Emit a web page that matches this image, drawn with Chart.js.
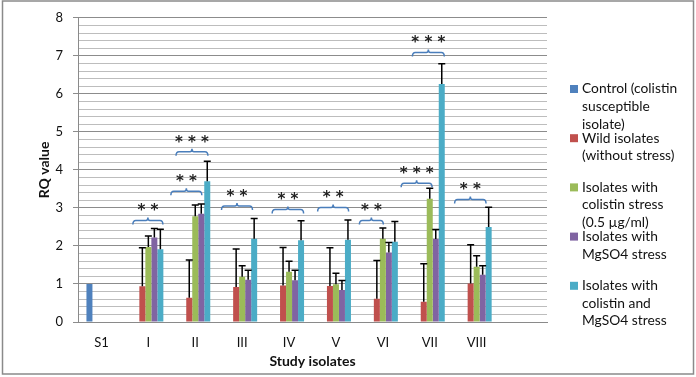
<html>
  <head>
    <title>RQ value of study isolates</title>
    <style>
      body { margin: 0; background: #fff; }
      #wrap { width: 696px; height: 377px; position: relative; }
    </style>
  </head>
  <body>
    <div id="wrap"><canvas id="myChart"></canvas></div>
    <script src="https://cdn.jsdelivr.net/npm/chart.js@4/dist/chart.umd.min.js"></script>
    <script>
      // categories (last one is the empty slot Excel left in the range)
      const isolates = ['S1', 'I', 'II', 'III', 'IV', 'V', 'VI', 'VII', 'VIII', ''];

      const seriesNames = [
        'Control (colistin\nsusceptible\nisolate)',
        'Wild isolates\n(without stress)',
        'Isolates with\ncolistin stress\n(0.5 µg/ml)',
        'Isolates with\nMgSO4 stress',
        'Isolates with\ncolistin and\nMgSO4 stress'
      ];
      const seriesColors = ['#4f81bd', '#c0504d', '#9bbb59', '#8064a2', '#4bacc6'];

      const control     = [1.0, null, null, null, null, null, null, null, null, null];
      const wild        = [null, 0.94, 0.64, 0.92, 0.96, 0.95, 0.61, 0.53, 1.01, null];
      const colistin    = [null, 1.97, 2.78, 1.19, 1.32, 0.99, 2.19, 3.24, 1.45, null];
      const mgso4       = [null, 2.22, 2.85, 1.11, 1.10, 0.84, 1.83, 2.18, 1.24, null];
      const colistinMg  = [null, 1.91, 3.70, 2.19, 2.15, 2.16, 2.11, 6.26, 2.50, null];

      // positive error bars
      const controlErr    = [null, null, null, null, null, null, null, null, null, null];
      const wildErr       = [null, 1.01, 0.99, 1.00, 1.00, 1.00, 1.01, 1.00, 1.02, null];
      const colistinErr   = [null, 0.29, 0.30, 0.29, 0.28, 0.29, 0.28, 0.28, 0.29, null];
      const mgso4Err      = [null, 0.24, 0.25, 0.25, 0.26, 0.25, 0.26, 0.25, 0.24, null];
      const colistinMgErr = [null, 0.53, 0.53, 0.53, 0.51, 0.52, 0.53, 0.53, 0.52, null];

      // significance brackets: category index, span (in category widths), level, stars
      const sigCategory = [1, 2, 2, 3, 4, 5, 6, 7, 7, 8];
      const sigFrom     = [-0.33, -0.52, -0.41, -0.44, -0.36, -0.39, -0.50, -0.61, -0.37, -0.47];
      const sigTo       = [0.31, 0.14, 0.27, 0.22, 0.31, 0.27, 0.01, 0.05, 0.31, 0.20];
      const sigLevel    = [2.67, 3.44, 4.48, 3.05, 2.96, 3.01, 2.67, 3.65, 7.09, 3.22];
      const sigStars    = ['**', '**', '***', '**', '**', '**', '**', '***', '***', '**'];

      const values = [control, wild, colistin, mgso4, colistinMg];
      const errors = [controlErr, wildErr, colistinErr, mgso4Err, colistinMgErr];

      Chart.defaults.font.family = 'Lato, "Open Sans", sans-serif';
      Chart.defaults.color = '#111';

      const isWhole = v => Math.abs(v - Math.round(v)) < 1e-6;

      const frame = {
        id: 'frame',
        beforeDraw(chart) {
          const ctx = chart.ctx;
          ctx.save();
          ctx.fillStyle = '#fff';
          ctx.fillRect(0, 0, chart.width, chart.height);
          ctx.strokeStyle = '#8a8a8a';
          ctx.lineWidth = 1.5;
          ctx.strokeRect(2.5, 1, chart.width - 5, chart.height - 4);
          ctx.restore();
        }
      };

      const errorBars = {
        id: 'errorBars',
        afterDatasetsDraw(chart) {
          const ctx = chart.ctx;
          const y = chart.scales.y;
          ctx.save();
          ctx.strokeStyle = '#000';
          ctx.lineWidth = 1.5;
          errors.forEach((errs, i) => {
            const meta = chart.getDatasetMeta(i);
            errs.forEach((e, j) => {
              if (e == null || values[i][j] == null) return;
              const bar = meta.data[j];
              const top = y.getPixelForValue(values[i][j] + e);
              ctx.beginPath();
              ctx.moveTo(bar.x, bar.y);
              ctx.lineTo(bar.x, top);
              ctx.moveTo(bar.x - 3.5, top);
              ctx.lineTo(bar.x + 3.5, top);
              ctx.stroke();
            });
          });
          ctx.restore();
        }
      };

      const brackets = {
        id: 'brackets',
        afterDatasetsDraw(chart) {
          const ctx = chart.ctx;
          const x = chart.scales.x;
          const y = chart.scales.y;
          const step = x.getPixelForValue(1) - x.getPixelForValue(0);
          ctx.save();
          sigCategory.forEach((c, k) => {
            const cx = x.getPixelForValue(c);
            const x1 = cx + sigFrom[k] * step;
            const x2 = cx + sigTo[k] * step;
            const yy = y.getPixelForValue(sigLevel[k]);
            const mid = (x1 + x2) / 2;
            ctx.strokeStyle = '#4a7ebb';
            ctx.lineWidth = 1.5;
            ctx.beginPath();
            ctx.moveTo(x1, yy + 4);
            ctx.quadraticCurveTo(x1, yy, x1 + 3, yy);
            ctx.lineTo(mid - 2, yy);
            ctx.quadraticCurveTo(mid, yy, mid, yy - 3);
            ctx.quadraticCurveTo(mid, yy, mid + 2, yy);
            ctx.lineTo(x2 - 3, yy);
            ctx.quadraticCurveTo(x2, yy, x2, yy + 4);
            ctx.stroke();
            ctx.fillStyle = '#222';
            ctx.font = 'bold 15px "DejaVu Sans"';
            ctx.textAlign = 'center';
            ctx.textBaseline = 'middle';
            ctx.fillText(sigStars[k].split('').join(' '), mid, yy - 9);
          });
          ctx.restore();
        }
      };

      const sideLegend = {
        id: 'sideLegend',
        afterDraw(chart) {
          const ctx = chart.ctx;
          ctx.save();
          ctx.font = '13.8px Lato';
          ctx.textBaseline = 'middle';
          ctx.textAlign = 'left';
          seriesNames.forEach((name, i) => {
            const top = 89 + i * 49.2;
            ctx.fillStyle = seriesColors[i];
            ctx.fillRect(570, top - 4, 8, 8);
            ctx.fillStyle = '#111';
            name.split('\n').forEach((line, l) => {
              ctx.fillText(line, 582, top + l * 17.6);
            });
          });
          ctx.restore();
        }
      };

      new Chart(document.getElementById('myChart'), {
        type: 'bar',
        data: {
          labels: isolates,
          datasets: values.map((v, i) => ({
            label: seriesNames[i].replace(/\n/g, ' '),
            data: v,
            backgroundColor: seriesColors[i],
            categoryPercentage: 0.64,
            barPercentage: 1.0
          }))
        },
        options: {
          responsive: true,
          maintainAspectRatio: false,
          animation: false,
          layout: { padding: { left: 34, right: 149, top: 16, bottom: 5 } },
          plugins: {
            legend: { display: false },
            tooltip: { enabled: false }
          },
          scales: {
            x: {
              grid: { display: false, drawTicks: false },
              border: { color: '#8a8a8a' },
              ticks: { padding: 13, font: { size: 13 }, color: '#111', maxRotation: 0, autoSkip: false },
              title: {
                display: true,
                text: 'Study isolates',
                font: { size: 14, weight: 'bold' },
                padding: { top: 0, bottom: 2 }
              },
              afterFit(scale) { scale.height = 50; }
            },
            y: {
              min: 0,
              max: 8,
              ticks: {
                stepSize: 0.2,
                autoSkip: false,
                padding: 10,
                font: { size: 13 },
                color: '#111',
                callback: v => isWhole(v) ? String(Math.round(v)) : ''
              },
              grid: {
                color: c => isWhole(c.tick.value) ? '#8c8c8c' : '#bdbdbd',
                tickColor: c => isWhole(c.tick.value) ? '#8c8c8c' : 'rgba(0,0,0,0)',
                tickLength: 5
              },
              border: { color: '#8a8a8a' },
              title: {
                display: true,
                text: 'RQ value',
                font: { size: 14, weight: 'bold' },
                padding: { top: 2, bottom: 0 }
              },
              afterFit(scale) { scale.width = 44; }
            }
          }
        },
        plugins: [frame, errorBars, brackets, sideLegend]
      });
    </script>
  </body>
</html>
